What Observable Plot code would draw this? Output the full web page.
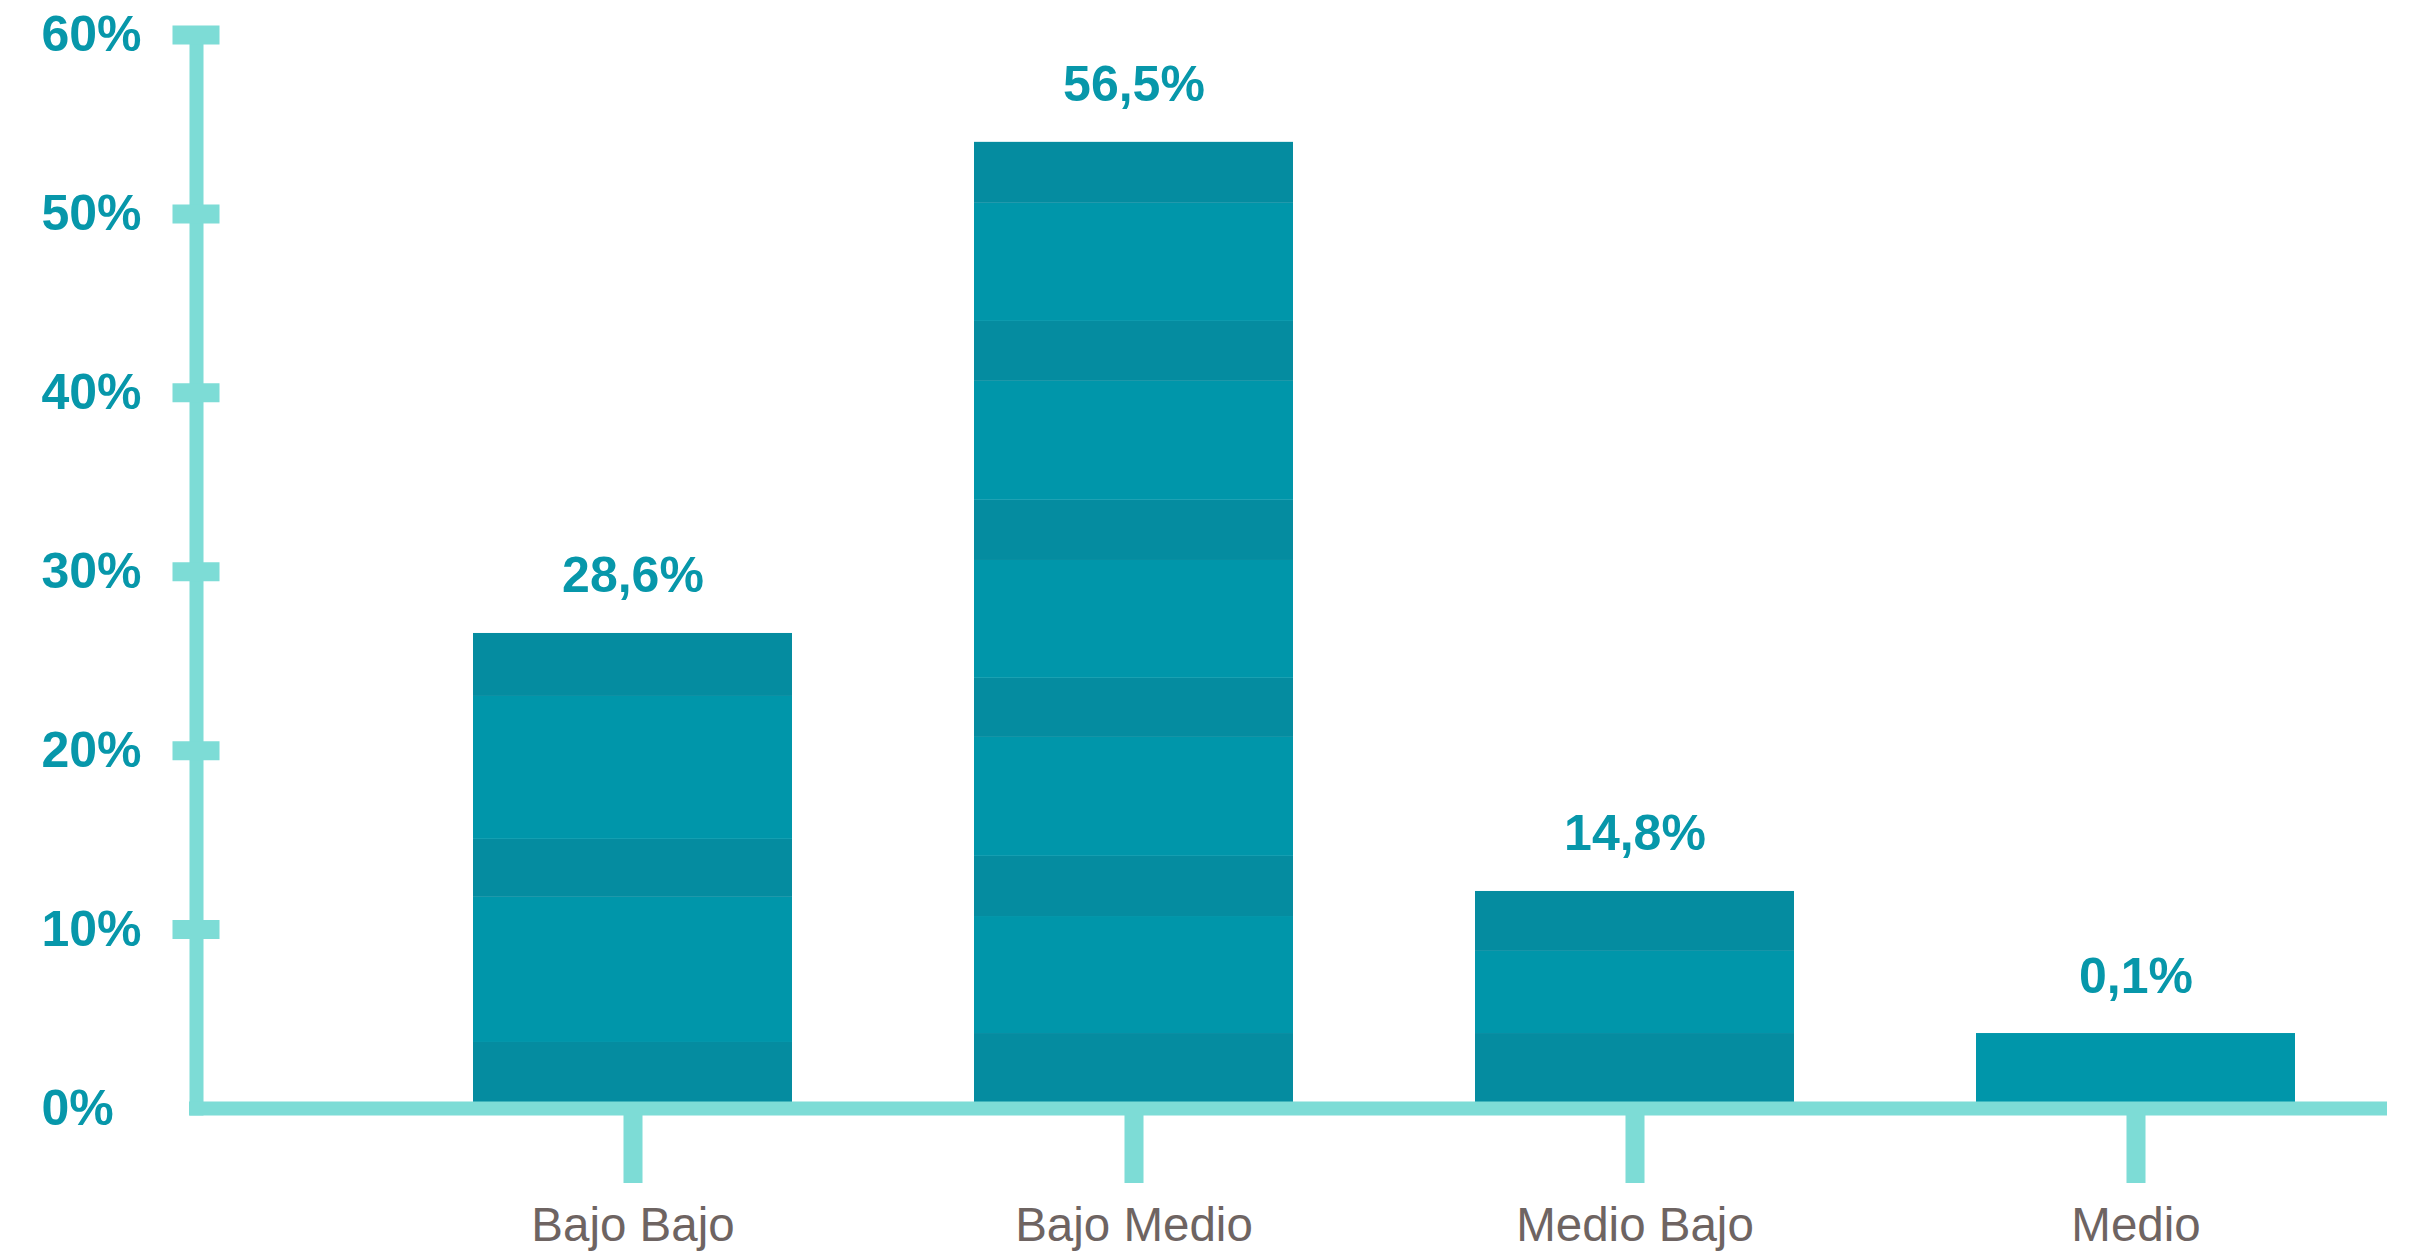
<!DOCTYPE html>
<html>
<head>
<meta charset="utf-8">
<script src="https://cdn.jsdelivr.net/npm/d3@7"></script>
<script src="https://cdn.jsdelivr.net/npm/@observablehq/plot@0.6"></script>
<style>
  html, body { margin: 0; padding: 0; background: #ffffff; }
  #chart svg { display: block; }
</style>
</head>
<body>
<div id="chart"></div>
<script>
// ---- Data ----
const categories = ["Bajo Bajo", "Bajo Medio", "Medio Bajo", "Medio"];
const values = [28.6, 56.5, 14.8, 0.1];
const valueLabels = ["28,6%", "56,5%", "14,8%", "0,1%"];
const yTicks = [0, 10, 20, 30, 40, 50, 60];
const yTickMarks = [10, 20, 30, 40, 50, 60];

// Stacked stripe segments of each drawn bar (axis units, from the bottom up)
const bajoBajoBands  = [3.69, 8.11, 3.24, 7.99, 3.52];
const bajoMedioBands = [4.19, 6.54, 3.36, 6.65, 3.30, 6.59, 3.36, 6.65, 3.35, 6.60, 3.41];
const medioBajoBands = [4.19, 4.59, 3.35];
const medioBands     = [4.19];
// tone of the lowest stripe of each bar, stripes then alternate
const firstTone = ["oscuro", "oscuro", "oscuro", "claro"];

// ---- Styles ----
const darkTeal = "#058ca0";
const lightTeal = "#0096aa";
const axisColor = "#7ddcd6";
const labelTeal = "#0797aa";
const grayText = "#6e6462";

const bandSets = [bajoBajoBands, bajoMedioBands, medioBajoBands, medioBands];
const segments = [];
categories.forEach((c, i) => {
  bandSets[i].forEach((size, j) => {
    const start = firstTone[i];
    const other = start === "oscuro" ? "claro" : "oscuro";
    segments.push({category: c, size, tone: j % 2 === 0 ? start : other});
  });
});
const barTops = bandSets.map(b => d3.sum(b));

const chart = Plot.plot({
  width: 2418,
  height: 1254,
  marginLeft: 196,
  marginRight: 31,
  marginTop: 34.5,
  marginBottom: 146,
  style: {fontFamily: "'Liberation Sans', Arial, sans-serif", background: "#ffffff", overflow: "visible"},
  x: {domain: categories, paddingInner: 0.363, paddingOuter: 0.368, align: 0.752, label: null},
  y: {domain: [0, 60], label: null},
  color: {domain: ["oscuro", "claro"], range: [darkTeal, lightTeal]},
  marks: [
    Plot.barY(segments, {x: "category", y: "size", fill: "tone"}),
    Plot.frame({anchor: "left", stroke: axisColor, strokeWidth: 14}),
    Plot.ruleY([0], {stroke: axisColor, strokeWidth: 14, insetLeft: -7}),
    Plot.axisY({ticks: yTickMarks, tickSize: 47, dx: 23.5, stroke: axisColor, strokeWidth: 19, tickFormat: () => "", label: null}),
    Plot.text(yTicks, {
      y: d => d, text: d => d + "%", frameAnchor: "left", textAnchor: "start", dx: -155,
      fontSize: 50, fontWeight: "bold", fill: labelTeal
    }),
    Plot.axisX({tickSize: 75, stroke: axisColor, strokeWidth: 19, tickFormat: () => "", label: null}),
    Plot.text(categories, {
      x: d => d, text: d => d, frameAnchor: "bottom", lineAnchor: "top", dy: 99,
      fontSize: 47.5, fill: grayText
    }),
    Plot.text(categories, {
      x: d => d, y: (d, i) => barTops[i], text: (d, i) => valueLabels[i],
      lineAnchor: "bottom", dy: -41, fontSize: 50, fontWeight: "bold", fill: labelTeal
    })
  ]
});
document.getElementById("chart").appendChild(chart);
</script>
</body>
</html>
